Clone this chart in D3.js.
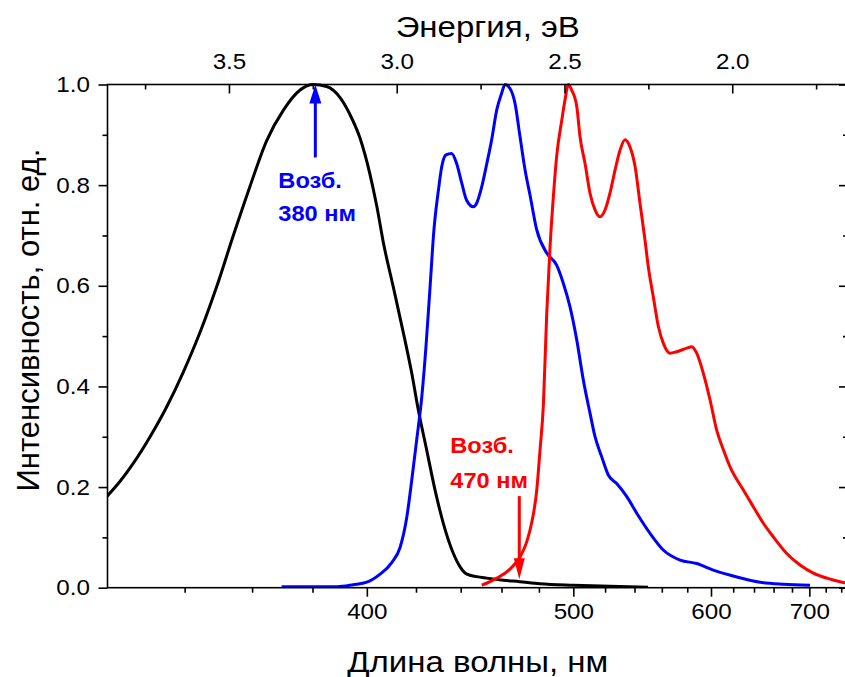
<!DOCTYPE html>
<html>
<head>
<meta charset="utf-8">
<script src="https://cdn.jsdelivr.net/npm/d3@7"></script>
<style>
  body { margin: 0; background: #fff; }
  svg { display: block; font-family: "Liberation Sans", Arial, sans-serif; }
</style>
</head>
<body>
<svg id="chart" width="845" height="677"></svg>
<script>
// Excitation spectrum (black): wavelength, nm / normalised intensity
const excWl = [319.5, 322.8, 326.2, 330.6, 335.1, 339.6, 344.4, 349.2, 354.2, 359.3, 364.6, 370.1, 375.7, 380.3, 385.0, 389.9, 393.6, 397.4, 401.2, 403.9, 406.5, 410.5, 414.7, 418.2, 421.0, 424.6, 428.3, 432.0, 436.6, 439.8, 442.9, 447.6, 452.5, 460.8, 469.5, 480.5, 500.0, 523.0, 549.7];
const excI = [0.181, 0.211, 0.247, 0.300, 0.360, 0.428, 0.508, 0.598, 0.700, 0.797, 0.888, 0.949, 0.989, 1.000, 0.996, 0.974, 0.940, 0.893, 0.822, 0.758, 0.686, 0.598, 0.506, 0.426, 0.353, 0.274, 0.194, 0.128, 0.068, 0.041, 0.027, 0.022, 0.019, 0.015, 0.012, 0.008, 0.005, 0.003, 0.001];

// Emission under 380 nm excitation (blue)
const emBlueWl = [369.5, 388.7, 394.8, 400.0, 405.2, 409.9, 413.3, 416.1, 418.2, 420.3, 422.5, 424.3, 426.1, 427.8, 429.8, 431.3, 433.2, 435.8, 438.1, 440.5, 442.8, 446.0, 447.6, 450.1, 452.6, 455.0, 457.6, 460.1, 461.8, 464.4, 467.0, 469.7, 472.4, 475.1, 478.8, 484.4, 490.1, 494.0, 498.0, 502.1, 506.1, 510.3, 513.5, 517.8, 522.1, 527.7, 534.6, 541.6, 551.2, 561.1, 574.2, 587.8, 602.0, 617.1, 646.0, 670.5, 700.8];
const emBlueI = [0.002, 0.002, 0.006, 0.011, 0.027, 0.050, 0.080, 0.140, 0.214, 0.294, 0.380, 0.479, 0.598, 0.711, 0.790, 0.837, 0.860, 0.863, 0.843, 0.804, 0.770, 0.757, 0.764, 0.797, 0.843, 0.890, 0.950, 0.983, 1.000, 0.992, 0.963, 0.896, 0.830, 0.780, 0.711, 0.665, 0.641, 0.605, 0.558, 0.492, 0.413, 0.347, 0.300, 0.260, 0.224, 0.207, 0.181, 0.148, 0.108, 0.075, 0.055, 0.048, 0.035, 0.025, 0.011, 0.007, 0.005];

// Emission under 470 nm excitation (red)
const emRedWl = [450.1, 457.6, 464.4, 469.7, 473.3, 476.0, 478.8, 480.6, 482.5, 484.4, 486.3, 488.2, 490.1, 493.1, 495.0, 497.0, 499.0, 502.1, 504.1, 507.2, 510.3, 513.5, 516.7, 520.0, 523.2, 526.6, 530.0, 533.4, 536.8, 540.4, 543.9, 547.5, 549.9, 553.6, 557.4, 561.1, 566.3, 571.5, 579.6, 583.7, 587.8, 593.4, 599.2, 605.0, 611.0, 617.1, 629.6, 639.3, 649.4, 659.7, 674.2, 689.1, 704.8, 721.3, 738.4, 745.1];
const emRedI = [0.005, 0.019, 0.037, 0.061, 0.091, 0.129, 0.194, 0.273, 0.363, 0.545, 0.678, 0.777, 0.857, 0.929, 0.969, 1.000, 0.989, 0.956, 0.896, 0.843, 0.784, 0.751, 0.737, 0.751, 0.784, 0.830, 0.870, 0.890, 0.876, 0.837, 0.764, 0.691, 0.638, 0.578, 0.519, 0.486, 0.466, 0.469, 0.476, 0.479, 0.466, 0.426, 0.373, 0.313, 0.274, 0.240, 0.194, 0.161, 0.128, 0.101, 0.068, 0.045, 0.029, 0.019, 0.012, 0.010];

// Axis ticks
const wlMajor = [400, 500, 600, 700];
const wlMinor = [340, 360, 380, 420, 440, 460, 480, 520, 540, 560, 580, 620, 640, 660, 680, 720, 740];
const evMajor = [3.5, 3.0, 2.5, 2.0];
const evMinor = [3.75, 3.25, 2.75, 2.25, 1.75];
const yMajor = [0, 0.2, 0.4, 0.6, 0.8, 1.0];
const yMinor = [0.1, 0.3, 0.5, 0.7, 0.9];

const svg = d3.select("#chart");
const pLeft = 107.5, pRight = 848, pTop = 84.5, pBottom = 587.7;
// the source picture is stretched a bit horizontally
const stretch = 1.1;

// wavelength axis is linear in 1/lambda (energy)
const x = d3.scalePow().exponent(-1).domain([319.7, 749.1]).range([pLeft, pRight]);
const xE = d3.scaleLinear().domain([3.862, 1.655]).range([pLeft, pRight]);
const y = d3.scaleLinear().domain([0, 1]).range([pBottom, pTop]);

function widen(sel, k = stretch) {
  sel.each(function() {
    const w = this.getComputedTextLength();
    d3.select(this).attr("textLength", w * k).attr("lengthAdjust", "spacingAndGlyphs");
  });
}

function styleAxis(g) {
  g.attr("font-size", null).attr("font-family", null);
  g.select(".domain").remove();
  g.selectAll("line").attr("stroke", "#000").attr("stroke-width", 1.6);
  g.selectAll("text").attr("fill", "#000").style("font-size", "22px");
}

// clip for curves
svg.append("clipPath").attr("id", "plot-clip")
  .append("rect").attr("x", pLeft).attr("y", pTop - 5).attr("width", pRight - pLeft).attr("height", pBottom - pTop + 5);

const curveLine = d3.line().x(d => x(d[0])).y(d => y(d[1])).curve(d3.curveMonotoneX);

const series = [
  { wl: excWl, val: excI, color: "#000000" },
  { wl: emBlueWl, val: emBlueI, color: "#0000ff" },
  { wl: emRedWl, val: emRedI, color: "#ff0000" }
];

const curves = svg.append("g").attr("clip-path", "url(#plot-clip)");
curves.selectAll("path")
  .data(series)
  .join("path")
    .attr("d", s => curveLine(s.wl.map((w, i) => [w, s.val[i]])))
    .attr("fill", "none")
    .attr("stroke", s => s.color)
    .attr("stroke-width", 3)
    .attr("stroke-linejoin", "round");

// bottom axis (wavelength)
svg.append("g").attr("transform", `translate(0,${pBottom})`)
  .call(d3.axisBottom(x).tickValues(wlMinor).tickSize(5).tickFormat(""))
  .call(styleAxis);
const gB = svg.append("g").attr("transform", `translate(0,${pBottom})`)
  .call(d3.axisBottom(x).tickValues(wlMajor).tickSize(9).tickPadding(7).tickFormat(d3.format("d")))
  .call(styleAxis);
widen(gB.selectAll("text"));

// top axis (energy), ticks inward
svg.append("g").attr("transform", `translate(0,${pTop})`)
  .call(d3.axisTop(xE).tickValues(evMinor).tickSize(-5).tickFormat(""))
  .call(styleAxis);
const gT = svg.append("g").attr("transform", `translate(0,${pTop})`)
  .call(d3.axisTop(xE).tickValues(evMajor).tickSize(-9).tickPadding(16).tickFormat(d3.format(".1f")))
  .call(styleAxis);
widen(gT.selectAll("text"));

// left axis
svg.append("g").attr("transform", `translate(${pLeft},0)`)
  .call(d3.axisLeft(y).tickValues(yMinor).tickSize(5).tickFormat(""))
  .call(styleAxis);
const gL = svg.append("g").attr("transform", `translate(${pLeft},0)`)
  .call(d3.axisLeft(y).tickValues(yMajor).tickSize(9).tickPadding(8.5).tickFormat(d3.format(".1f")))
  .call(styleAxis);
widen(gL.selectAll("text"));

// right axis, ticks inward, no labels
svg.append("g").attr("transform", `translate(${pRight},0)`)
  .call(d3.axisRight(y).tickValues(yMinor).tickSize(-5).tickFormat(""))
  .call(styleAxis);
svg.append("g").attr("transform", `translate(${pRight},0)`)
  .call(d3.axisRight(y).tickValues(yMajor).tickSize(-9).tickFormat(""))
  .call(styleAxis);

// frame
svg.append("rect")
  .attr("x", pLeft).attr("y", pTop)
  .attr("width", pRight - pLeft).attr("height", pBottom - pTop)
  .attr("fill", "none").attr("stroke", "#000").attr("stroke-width", 1.6);

// axis titles
const tTop = svg.append("text")
  .attr("x", (pLeft + pRight) / 2 + 10).attr("y", 36.5)
  .attr("text-anchor", "middle").style("font-size", "30px")
  .text("Энергия, эВ");
const tBottom = svg.append("text")
  .attr("x", (pLeft + pRight) / 2).attr("y", 672)
  .attr("text-anchor", "middle").style("font-size", "30px")
  .text("Длина волны, нм");
widen(tTop); widen(tBottom);
svg.append("text")
  .attr("transform", `translate(39,${(pTop + pBottom) / 2 - 16}) rotate(-90)`)
  .attr("text-anchor", "middle").style("font-size", "31px")
  .text("Интенсивность, отн. ед.");

// excitation arrows and labels
function arrow(wl, from, to, color, headLen, headHalf) {
  const ax = x(wl), y0 = y(from), y1 = y(to);
  const dir = y1 < y0 ? 1 : -1;
  svg.append("line")
    .attr("x1", ax).attr("x2", ax)
    .attr("y1", y0).attr("y2", y1 + dir * headLen * 0.6)
    .attr("stroke", color).attr("stroke-width", 3);
  svg.append("path")
    .attr("d", `M${ax},${y1} L${ax - headHalf},${y1 + dir * headLen} L${ax + headHalf},${y1 + dir * headLen} Z`)
    .attr("fill", color);
  return ax;
}

const blueX = arrow(381, 0.855, 1.0, "#0000ff", 19, 6);
const redX = arrow(469.3, 0.182, 0.017, "#ff0000", 21, 5.5);

function label(tx, lines, color) {
  lines.forEach(l => {
    const t = svg.append("text")
      .attr("x", tx).attr("y", y(l.at))
      .attr("fill", color)
      .style("font-size", "22.5px").style("font-weight", "bold")
      .text(l.text);
    widen(t, 1.05);
  });
}
label(blueX - 37, [{ text: "Возб.", at: 0.795 }, { text: "380 нм", at: 0.728 }], "#0000ff");
label(redX - 69, [{ text: "Возб.", at: 0.268 }, { text: "470 нм", at: 0.198 }], "#ff0000");
</script>
</body>
</html>
